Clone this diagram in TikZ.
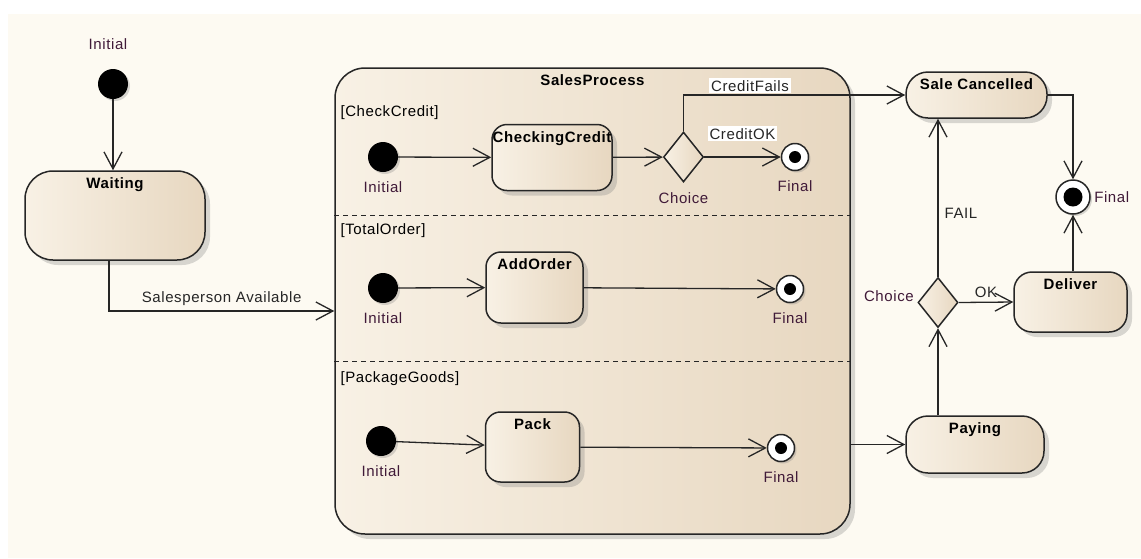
\documentclass[tikz,border=0pt]{standalone}
\usepackage{fontspec}
\setmainfont{Liberation Sans}[LetterSpace=4]
\usepackage{xcolor}
\usetikzlibrary{arrows.meta,shapes.geometric,shadows}
\newcommand{\umlfont}{\fontsize{15pt}{17pt}\selectfont}
\definecolor{stateleft}{RGB}{248,241,229}
\definecolor{stateright}{RGB}{231,215,192}
\definecolor{pagebg}{RGB}{253,250,242}
\definecolor{pseudotext}{RGB}{64,26,56}
\tikzset{
	state/.style={
			draw=black!85, line width=1.5pt, rounded corners=#1, inner sep=0pt,
			left color=stateleft, right color=stateright,
			drop shadow={shadow xshift=5pt, shadow yshift=-5pt, opacity=0.3}
		},
	state/.default=15pt,
	statename/.style={label={[below=4pt, text=black, font=\umlfont\bfseries]north:#1}},
	pseudo/.style={text=pseudotext},
	under/.style={label={[pseudo, below=6pt]below:#1}},
	initdot/.style={
			circle, fill=black, minimum size=30pt, inner sep=0pt,
			drop shadow={shadow xshift=2pt, shadow yshift=-2pt, opacity=0.3}
		},
	choice/.style={
			diamond, draw=black!85, line width=1.5pt, inner sep=0pt,
			minimum width=40pt, minimum height=50pt,
			left color=stateleft, right color=stateright
		},
	final/.style={
			circle, draw=black!85, line width=1.5pt, fill=white, inner sep=0pt, minimum size=27pt,
			drop shadow={shadow xshift=2pt, shadow yshift=-2pt, opacity=0.3},
			path picture={\fill[black] (path picture bounding box.center) circle (#1);}
		},
	final/.default=6pt,
	flow/.style={draw=black!85, line width=1.3pt, -{Straight Barb[length=17pt, width=18pt]}},
	trans/.style={text=black!85, inner sep=2pt},
	lane/.style={draw=black!85, line width=1pt, dash pattern=on 5pt off 4pt}
}

\begin{document}
\begin{tikzpicture}[x=1pt, y=-1pt, font=\umlfont]
	\useasboundingbox (0,0) rectangle (1141,558);
	\fill[white] (0,0) rectangle (1141,558);
	\fill[pagebg] (8,14) rectangle (1141,558);

	\node[initdot, label={[pseudo, above=16pt, xshift=-5pt]above:Initial}] (start) at (113,84) {};
	\node[state=28pt, minimum width=180pt, minimum height=89pt, statename=Waiting] (waiting) at (115,215.5) {};

	% composite state with its three regions
	\node[state=30pt, minimum width=515pt, minimum height=466pt, statename=SalesProcess] (sales) at (592.5,301) {};
	\draw[lane] (sales.west |- 0,215) -- (sales.east |- 0,215);
	\draw[lane] (sales.west |- 0,361) -- (sales.east |- 0,361);

	\node[anchor=west] (lane1) at (337,113) {[CheckCredit]};
	\node[anchor=west] (lane2) at (337,231) {[TotalOrder]};
	\node[anchor=west] (lane3) at (337,379) {[PackageGoods]};

	\node[initdot, under=Initial] (init1) at (383,157) {};
	\node[state=15pt, minimum width=120pt, minimum height=66pt, statename=CheckingCredit] (checking) at (552,157.5) {};
	\node[choice, under=Choice] (choice1) at (683.5,157) {};
	\node[final, under=Final] (final1) at (795,157) {};

	\node[initdot, under=Initial] (init2) at (383,288) {};
	\node[state=15pt, minimum width=97pt, minimum height=71pt, statename=AddOrder] (addorder) at (534.5,287.5) {};
	\node[final, under=Final] (final2) at (790,289) {};

	\node[initdot, under=Initial] (init3) at (381,441) {};
	\node[state=15pt, minimum width=94pt, minimum height=70pt, statename=Pack] (pack) at (532.5,447) {};
	\node[final, under=Final] (final3) at (781,448) {};

	% states outside
	\node[state=22pt, minimum width=141pt, minimum height=46pt, statename=Sale Cancelled] (cancel) at (976.5,95) {};
	\node[state=22pt, minimum width=138pt, minimum height=57pt, statename=Paying] (paying) at (975,444.5) {};
	\node[state=18pt, minimum width=113pt, minimum height=60pt, statename=Deliver] (deliver) at (1070.5,302) {};
	\node[choice, label={[pseudo, yshift=6pt]left:Choice}] (choice2) at (938,302.5) {};
	\node[final=9.5pt, minimum size=34pt, label={[pseudo]right:Final}] (fin) at (1073,197) {};

	\draw[flow] (start) -- (start |- waiting.north);
	\draw[flow] ([xshift=-6pt]waiting.south) |- (sales.west |- 0,311) node[trans, pos=0.75, above=3pt] {Salesperson Available};

	\draw[flow] (init1) -- (checking);
	\draw[flow] (checking) -- (choice1);
	\draw[flow] (choice1) -- (final1) node[trans, fill=white, midway, above=15pt] {CreditOK};
	\draw[flow] (choice1.north) |- (cancel.west) node[trans, fill=white, pos=0.65, above=1pt] {CreditFails};

	\draw[flow] (init2) -- (addorder);
	\draw[flow] (addorder) -- (final2);
	\draw[flow] (init3) -- (pack);
	\draw[flow] (pack) -- (final3);

	\draw[flow] (sales.east |- paying.west) -- (paying.west);
	\draw[flow] (paying.north -| choice2) -- (choice2.south);
	\draw[flow] (choice2.north) -- (choice2 |- cancel.south) node[trans, pos=0.4, right=4pt] {FAIL};
	\draw[flow] (choice2.east) -- (deliver.west) node[trans, midway, above=2pt] {OK};
	\draw[flow] (cancel.east) -| (fin.north);
	\draw[flow] (fin.south |- deliver.north) -- (fin.south);
\end{tikzpicture}
\end{document}
